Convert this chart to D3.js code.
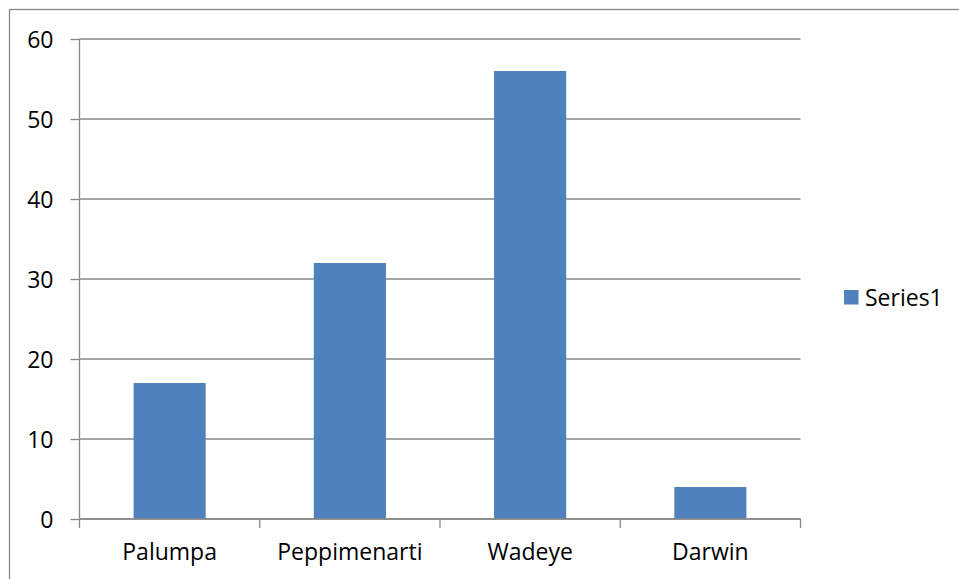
<!DOCTYPE html>
<html><head><meta charset="utf-8">
<script src="https://cdn.jsdelivr.net/npm/d3@7"></script>
<style>html,body{margin:0;padding:0;background:#fff;overflow:hidden}</style>
</head><body>
<svg id="c" width="959" height="579"></svg>
<script>
const categories = ["Palumpa", "Peppimenarti", "Wadeye", "Darwin"];
const series1 = [17, 32, 56, 4];
const yTicks = [0, 10, 20, 30, 40, 50, 60];
const seriesName = "Series1";

(function () {
const svg = d3.select("#c");
const font = "'Open Sans', sans-serif";
const fs = 23;
const grey = "#888888";
const pL = 79.5, pR = 800.5, pT = 39, pB = 519;

svg.append("rect").attr("x", 9.5).attr("y", 9.5).attr("width", 1000).attr("height", 1000)
  .attr("fill", "none").attr("stroke", grey).attr("stroke-width", 1.3);

const x = d3.scaleBand().domain(categories).range([pL, pR]).paddingInner(0.6).paddingOuter(0.3);
const xOuter = d3.scaleBand().domain(categories).range([pL, pR]);
const y = d3.scaleLinear().domain([0, 60]).range([pB, pT]);

// gridlines
svg.append("g").selectAll("line").data(yTicks).join("line")
  .attr("x1", pL).attr("x2", pR).attr("y1", d => y(d)).attr("y2", d => y(d))
  .attr("stroke", grey).attr("stroke-width", 1.3);

// bars
svg.append("g").selectAll("rect").data(series1).join("rect")
  .attr("x", (d, i) => x(categories[i]))
  .attr("width", x.bandwidth())
  .attr("y", d => y(d))
  .attr("height", d => y(0) - y(d))
  .attr("fill", "#4F81BD");

// y axis
const yAxis = svg.append("g").attr("transform", `translate(${pL},0)`)
  .call(d3.axisLeft(y).tickValues(yTicks).tickSize(9).tickPadding(17));
yAxis.selectAll("text").attr("font-family", font).attr("font-size", fs).attr("fill", "#000").attr("dy", "0.36em");

// x axis
const xAxis = svg.append("g").attr("transform", `translate(0,${pB})`)
  .call(d3.axisBottom(xOuter).tickSize(0).tickPadding(25));
xAxis.selectAll("text").attr("font-family", font).attr("font-size", fs).attr("fill", "#000");
const bounds = categories.map(c => xOuter(c)).concat([pR]);
svg.append("g").selectAll("line").data(bounds).join("line")
  .attr("x1", d => d).attr("x2", d => d).attr("y1", pB).attr("y2", pB + 9)
  .attr("stroke", grey).attr("stroke-width", 1.3);

svg.selectAll(".domain, .tick line").attr("stroke", grey).attr("stroke-width", 1.3);
yAxis.select(".domain").remove();
xAxis.select(".domain").remove();
svg.append("line").attr("x1", pL).attr("x2", pL).attr("y1", pT).attr("y2", pB).attr("stroke", grey).attr("stroke-width", 1.3);
svg.append("line").attr("x1", pL).attr("x2", pR).attr("y1", pB).attr("y2", pB).attr("stroke", grey).attr("stroke-width", 1.3);

// legend
const lg = svg.append("g").attr("transform", "translate(844,290)");
lg.append("rect").attr("width", 14.5).attr("height", 14.5).attr("fill", "#4F81BD");
lg.append("text").attr("x", 21).attr("y", 7.3).attr("dy", "0.36em")
  .attr("font-family", font).attr("font-size", fs).attr("fill", "#000").text(seriesName);
})();
</script>
</body></html>
